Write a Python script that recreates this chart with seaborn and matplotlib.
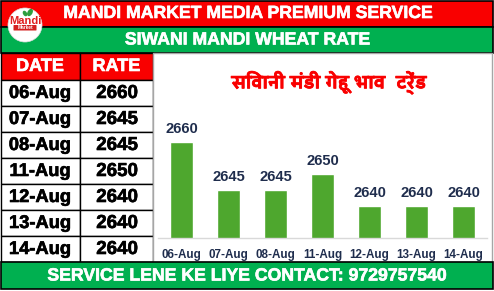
import matplotlib
matplotlib.use("Agg")
import matplotlib.pyplot as plt
import matplotlib.patheffects as pe
import seaborn as sns
import pandas as pd
from matplotlib.patches import Rectangle, Circle, FancyBboxPatch, Ellipse
from matplotlib import font_manager

dates = ["06-Aug", "07-Aug", "08-Aug", "11-Aug", "12-Aug", "13-Aug", "14-Aug"]
rates = [2660, 2645, 2645, 2650, 2640, 2640, 2640]
header_title = "MANDI MARKET MEDIA PREMIUM SERVICE"
sub_title = "SIWANI MANDI WHEAT RATE"
footer_text = "SERVICE LENE KE LIYE CONTACT: 9729757540"
chart_title = "सिवानी मंडी गेहू भाव  ट्रेंड"
col_headers = ["DATE", "RATE"]

RED = "#F90000"
GREEN = "#00B050"
BAR = "#4EA72E"
LABEL = "#1F2D4D"


def find_deva():
    try:
        from fontTools.ttLib import TTFont
    except Exception:
        return None
    best = None
    for f in font_manager.findSystemFonts():
        try:
            tt = TTFont(f, fontNumber=0, lazy=True)
            cmap = tt.getBestCmap()
            if cmap and 0x0938 in cmap and 0x093F in cmap:
                if best is None or "Bold" in f:
                    best = f
        except Exception:
            pass
    if best:
        return font_manager.FontProperties(fname=best)
    return None


def heavy(color, w=0.45):
    return [pe.withStroke(linewidth=w, foreground=color)]


sns.set_theme(style="white")
plt.rcParams["font.family"] = ["Liberation Sans", "DejaVu Sans"]

fig = plt.figure(figsize=(4.94, 2.91), dpi=100)
bg = fig.add_axes([0, 0, 1, 1])
bg.set_xlim(0, 494)
bg.set_ylim(291, 0)
bg.axis("off")

# banners
bg.add_patch(Rectangle((0.5, 0.5), 492, 26, fc=RED, ec="black", lw=1.2))
bg.add_patch(Rectangle((0.5, 26.5), 492, 26, fc=GREEN, ec="black", lw=1.2))
bg.text(247.5, 13.5, header_title, ha="center", va="center", color="white",
        fontsize=12.7, fontweight="bold", path_effects=heavy("white"))
bg.text(247.5, 40, sub_title, ha="center", va="center", color="white",
        fontsize=12.7, fontweight="bold", path_effects=heavy("white"))

# logo
bg.add_patch(Circle((25, 25), 17, fc="white", ec="#dddddd", lw=0.5, zorder=3))
bg.add_patch(Ellipse((30, 12.5), 5, 8, angle=30, fc="#2E9E3E", ec="none", zorder=4))
bg.add_patch(Ellipse((25, 13.5), 4, 6, angle=-30, fc="#2E9E3E", ec="none", zorder=4))
bg.text(25, 20.5, "Mandi", ha="center", va="center", color="#E02020",
        fontsize=8, fontweight="bold", zorder=5)
bg.add_patch(FancyBboxPatch((14, 25.5), 22, 4.5, boxstyle="round,pad=0.5",
                            fc="#D42020", ec="none", zorder=4))
bg.text(25, 27.8, "Market", ha="center", va="center", color="white",
        fontsize=3.4, fontweight="bold", zorder=5)

# table
bg.add_patch(Rectangle((0.5, 52.5), 79.5, 27.5, fc=RED, ec="black", lw=1))
bg.add_patch(Rectangle((80, 52.5), 73, 27.5, fc=RED, ec="black", lw=1))
bg.text(40, 66.5, col_headers[0], ha="center", va="center", color="white",
        fontsize=13, fontweight="bold", path_effects=heavy("white"))
bg.text(116.5, 66.5, col_headers[1], ha="center", va="center", color="white",
        fontsize=13, fontweight="bold", path_effects=heavy("white"))
for i, (d, r) in enumerate(zip(dates, rates)):
    y0 = 80 + 26 * i
    bg.add_patch(Rectangle((0.5, y0), 79.5, 26, fc="white", ec="black", lw=1))
    bg.add_patch(Rectangle((80, y0), 73, 26, fc="white", ec="black", lw=1))
    bg.text(40, y0 + 13.5, d, ha="center", va="center", color="black",
            fontsize=13.2, fontweight="bold", path_effects=heavy("black"))
    bg.text(117, y0 + 13.5, str(r), ha="center", va="center", color="black",
            fontsize=13.5, fontweight="bold", path_effects=heavy("black"))

# chart box
bg.add_patch(Rectangle((153, 52.5), 338.5, 209.5, fc="white", ec="#A6A6A6", lw=1))

# footer
bg.add_patch(Rectangle((0.5, 262), 492, 27, fc=GREEN, ec="black", lw=1.2))
bg.text(247, 276, footer_text, ha="center", va="center", color="white",
        fontsize=12.7, fontweight="bold", path_effects=heavy("white"))

# chart title
dp = find_deva()
if dp is not None:
    dp.set_size(15)
    dp.set_weight("bold")
    bg.text(329, 83, chart_title, ha="center", va="center", color=RED,
            fontproperties=dp, path_effects=heavy(RED, 0.6))
else:
    bg.text(329, 83, chart_title, ha="center", va="center", color=RED,
            fontsize=15, fontweight="bold")

# bar chart
left, right, top, base = 158, 487, 62, 238
ax = fig.add_axes([left / 494, (291 - base) / 291, (right - left) / 494,
                   (base - top) / 291])
ax.patch.set_visible(False)
df = pd.DataFrame({"date": dates, "rate": rates})
sns.barplot(data=df, x="date", y="rate", color=BAR, saturation=1, width=0.49, ax=ax)
ax.set_ylim(2630, 2685)
ax.set_xlim(-0.5, len(dates) - 0.5)
ax.bar_label(ax.containers[0], padding=4.5, fontsize=10.6, fontweight="bold",
             color=LABEL)
ax.set_xlabel("")
ax.set_ylabel("")
ax.set_yticks([])
ax.tick_params(axis="x", length=0, pad=8, labelsize=8.4, labelcolor=LABEL)
for t in ax.get_xticklabels():
    t.set_fontweight("bold")
for s in ["top", "left", "right"]:
    ax.spines[s].set_visible(False)
ax.spines["bottom"].set_color("#D9D9D9")
ax.spines["bottom"].set_linewidth(1)

fig.savefig("out.png", dpi=100)
